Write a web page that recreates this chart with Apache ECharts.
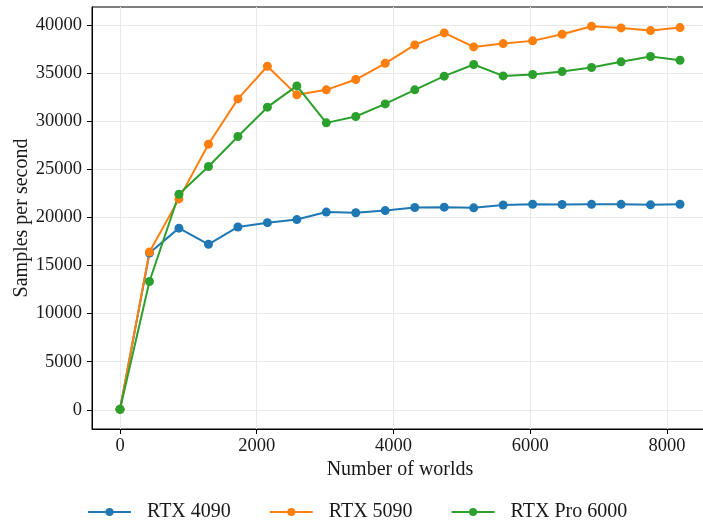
<!DOCTYPE html>
<html>
<head>
<meta charset="utf-8">
<script src="https://cdn.jsdelivr.net/npm/echarts@6/dist/echarts.min.js"></script>
<style>html,body{margin:0;padding:0;background:#fff}#c{width:703px;height:521px}</style>
</head>
<body>
<div id="c"></div>
<script>
const worlds = [0, 431, 862, 1294, 1725, 2156, 2587, 3018, 3449, 3880, 4312, 4743, 5174, 5605, 6036, 6467, 6898, 7330, 7761, 8192];
const rtx4090 = [50, 16300, 18880, 17200, 19000, 19450, 19770, 20550, 20480, 20700, 21020, 21060, 20990, 21280, 21360, 21340, 21350, 21350, 21300, 21360];
const rtx5090 = [50, 16400, 21920, 27600, 32310, 35700, 32730, 33250, 34320, 36010, 37920, 39170, 37710, 38060, 38340, 39030, 39860, 39690, 39410, 39720];
const rtxPro6000 = [50, 13330, 22400, 25280, 28400, 31450, 33660, 29820, 30480, 31790, 33250, 34670, 35880, 34700, 34840, 35150, 35570, 36160, 36710, 36330];
const xTicks = [0, 2000, 4000, 6000, 8000];
const yTicks = [0, 5000, 10000, 15000, 20000, 25000, 30000, 35000, 40000];
const seriesNames = ['RTX 4090', 'RTX 5090', 'RTX Pro 6000'];
const colors = ['#1f77b4', '#ff7f0e', '#2ca02c'];

const FONT = 'Liberation Serif';
const pair = ys => worlds.map((x, i) => [x, ys[i]]);
const plain = v => String(v);
const chart = echarts.init(document.getElementById('c'), null, {renderer: 'canvas'});
chart.setOption({
  animation: false,
  backgroundColor: '#fff',
  color: colors,
  textStyle: {fontFamily: FONT},
  grid: {left: 92, top: 7, width: 616, height: 422, containLabel: false, outerBoundsMode: 'none',
         show: true, borderColor: '#000', borderWidth: 1, backgroundColor: 'transparent'},
  xAxis: {
    type: 'value', min: -409.6, max: 8601.6,
    name: 'Number of worlds', nameLocation: 'middle', nameGap: 31, nameMoveOverlap: false,
    nameTextStyle: {fontFamily: FONT, fontSize: 20, color: '#1a1a1a'},
    axisLine: {show: true, onZero: false, lineStyle: {color: '#000', width: 1}},
    axisTick: {show: true, length: 5, customValues: xTicks, lineStyle: {color: '#000'}},
    axisLabel: {customValues: xTicks, formatter: plain, margin: 8, fontFamily: FONT, fontSize: 18.5, color: '#1a1a1a'},
    splitLine: {show: true, lineStyle: {color: '#e8e8e8', width: 1}}
  },
  yAxis: {
    type: 'value', min: -1995, max: 41860,
    name: 'Samples per second', nameLocation: 'middle', nameGap: 60, nameRotate: 90, nameMoveOverlap: false,
    nameTextStyle: {fontFamily: FONT, fontSize: 20, color: '#1a1a1a'},
    axisLine: {show: true, onZero: false, lineStyle: {color: '#000', width: 1}},
    axisTick: {show: true, length: 5, customValues: yTicks, lineStyle: {color: '#000'}},
    axisLabel: {customValues: yTicks, formatter: plain, margin: 10, fontFamily: FONT, fontSize: 18.5, color: '#1a1a1a'},
    splitLine: {show: true, lineStyle: {color: '#e8e8e8', width: 1}}
  },
  legend: {
    left: 82, top: 497, itemWidth: 43, itemHeight: 10, itemGap: 38,
    textStyle: {fontFamily: FONT, fontSize: 20, color: '#1a1a1a', padding: [0, 0, 0, 11]},
    data: seriesNames
  },
  series: [rtx4090, rtx5090, rtxPro6000].map((ys, i) => ({
    name: seriesNames[i], type: 'line', data: pair(ys),
    symbol: 'circle', symbolSize: 9, showSymbol: true,
    lineStyle: {width: 2, color: colors[i]},
    itemStyle: {color: colors[i]}
  }))
});
</script>
</body>
</html>
